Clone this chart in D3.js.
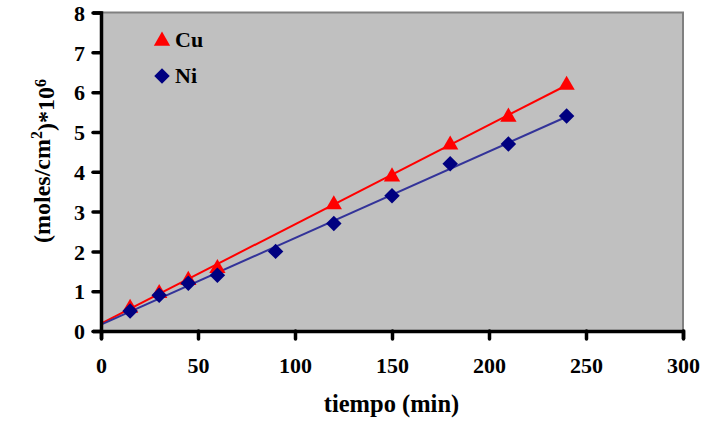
<!DOCTYPE html>
<html><head><meta charset="utf-8">
<script src="https://cdn.jsdelivr.net/npm/d3@7"></script>
<style>body{margin:0;background:#fff}svg{display:block}text{font-family:"Liberation Serif","Times New Roman",serif;font-weight:bold}</style>
</head><body>
<svg id="c" width="701" height="421"></svg>
<script>
const xTicks = [0,50,100,150,200,250,300];
const yTicks = [0,1,2,3,4,5,6,7,8];
const cuTime = [15,30,45,60,120,150,180,210,240];
const cuVals = [0.6,0.97,1.3,1.6,3.2,3.9,4.7,5.4,6.2];
const niTime = [15,30,45,60,90,120,150,180,210,240];
const niVals = [0.5,0.9,1.2,1.4,2.0,2.7,3.4,4.2,4.7,5.4];
const seriesNames = ["Cu","Ni"];

const svg = d3.select("#c");
const L=101, R=683, T=12.5, B=331;
const x = d3.scaleLinear().domain([0,300]).range([L,R]);
const y = d3.scaleLinear().domain([0,8]).range([B,T]);

svg.append("rect").attr("x",L).attr("y",T).attr("width",R-L).attr("height",B-T).attr("fill","#c0c0c0");
svg.append("path").attr("d",`M${L},${T}H${R}V${B}`).attr("fill","none").attr("stroke","#808080").attr("stroke-width",2);

function fit(xs,ys){
  const n=xs.length, mx=d3.mean(xs), my=d3.mean(ys);
  let sxy=0,sxx=0; for(let i=0;i<n;i++){sxy+=(xs[i]-mx)*(ys[i]-my);sxx+=(xs[i]-mx)**2;}
  const b=sxy/sxx; return {a:my-b*mx,b};
}
function trend(xs,ys,color){
  const f=fit(xs,ys);
  svg.append("line").attr("x1",x(0)).attr("y1",y(f.a)).attr("x2",x(240)).attr("y2",y(f.a+f.b*240))
    .attr("stroke",color).attr("stroke-width",2);
}
trend(cuTime,cuVals,"#ff0000");
trend(niTime,niVals,"#333399");

const tri = d3.symbol().type(d3.symbolTriangle).size(115);
const dia = d3.symbol().type(d3.symbolSquare).size(120);
svg.append("g").selectAll("path").data(cuTime.map((t,i)=>[t,cuVals[i]])).join("path")
  .attr("d",tri).attr("transform",d=>`translate(${x(d[0])},${y(d[1])+1})`).attr("fill","#ff0000");
svg.append("g").selectAll("path").data(niTime.map((t,i)=>[t,niVals[i]])).join("path")
  .attr("d",dia).attr("transform",d=>`translate(${x(d[0])},${y(d[1])}) rotate(45)`).attr("fill","#000080");

// axes
const xa = svg.append("g").attr("transform",`translate(0,${B})`).call(d3.axisBottom(x).tickValues(xTicks).tickSize(8).tickPadding(18));
const ya = svg.append("g").attr("transform",`translate(${L},0)`).call(d3.axisLeft(y).tickValues(yTicks).tickSize(8).tickPadding(8));
[xa,ya].forEach(g=>{
  g.select(".domain").attr("stroke","#000").attr("stroke-width",3.5);
  g.selectAll(".tick line").attr("stroke","#000").attr("stroke-width",3.5).attr("stroke-linecap","round");
  g.selectAll(".tick text").attr("fill","#000").style("font-size","22px").style("font-family","'Liberation Serif',serif").style("font-weight","bold");
});
ya.selectAll(".tick text").attr("dy","0.35em");

// legend
svg.append("path").attr("d",tri).attr("transform","translate(162,41)").attr("fill","#ff0000");
svg.append("text").attr("x",175).attr("y",47).style("font-size","22px").text(seriesNames[0]);
svg.append("path").attr("d",dia).attr("transform","translate(162,76) rotate(45)").attr("fill","#000080");
svg.append("text").attr("x",175).attr("y",83).style("font-size","22px").text(seriesNames[1]);

// axis titles
svg.append("text").attr("x",391.5).attr("y",412).attr("text-anchor","middle").style("font-size","24.5px").text("tiempo (min)");
const yl = svg.append("text").attr("transform","translate(50,161) rotate(-90)").attr("text-anchor","middle").style("font-size","24px");
yl.append("tspan").text("(moles/cm");
yl.append("tspan").attr("dy","-0.5em").style("font-size","16px").text("2");
yl.append("tspan").attr("dy","0.5em").text(")*10");
yl.append("tspan").attr("dy","-0.5em").style("font-size","16px").text("6");
</script>
</body></html>
